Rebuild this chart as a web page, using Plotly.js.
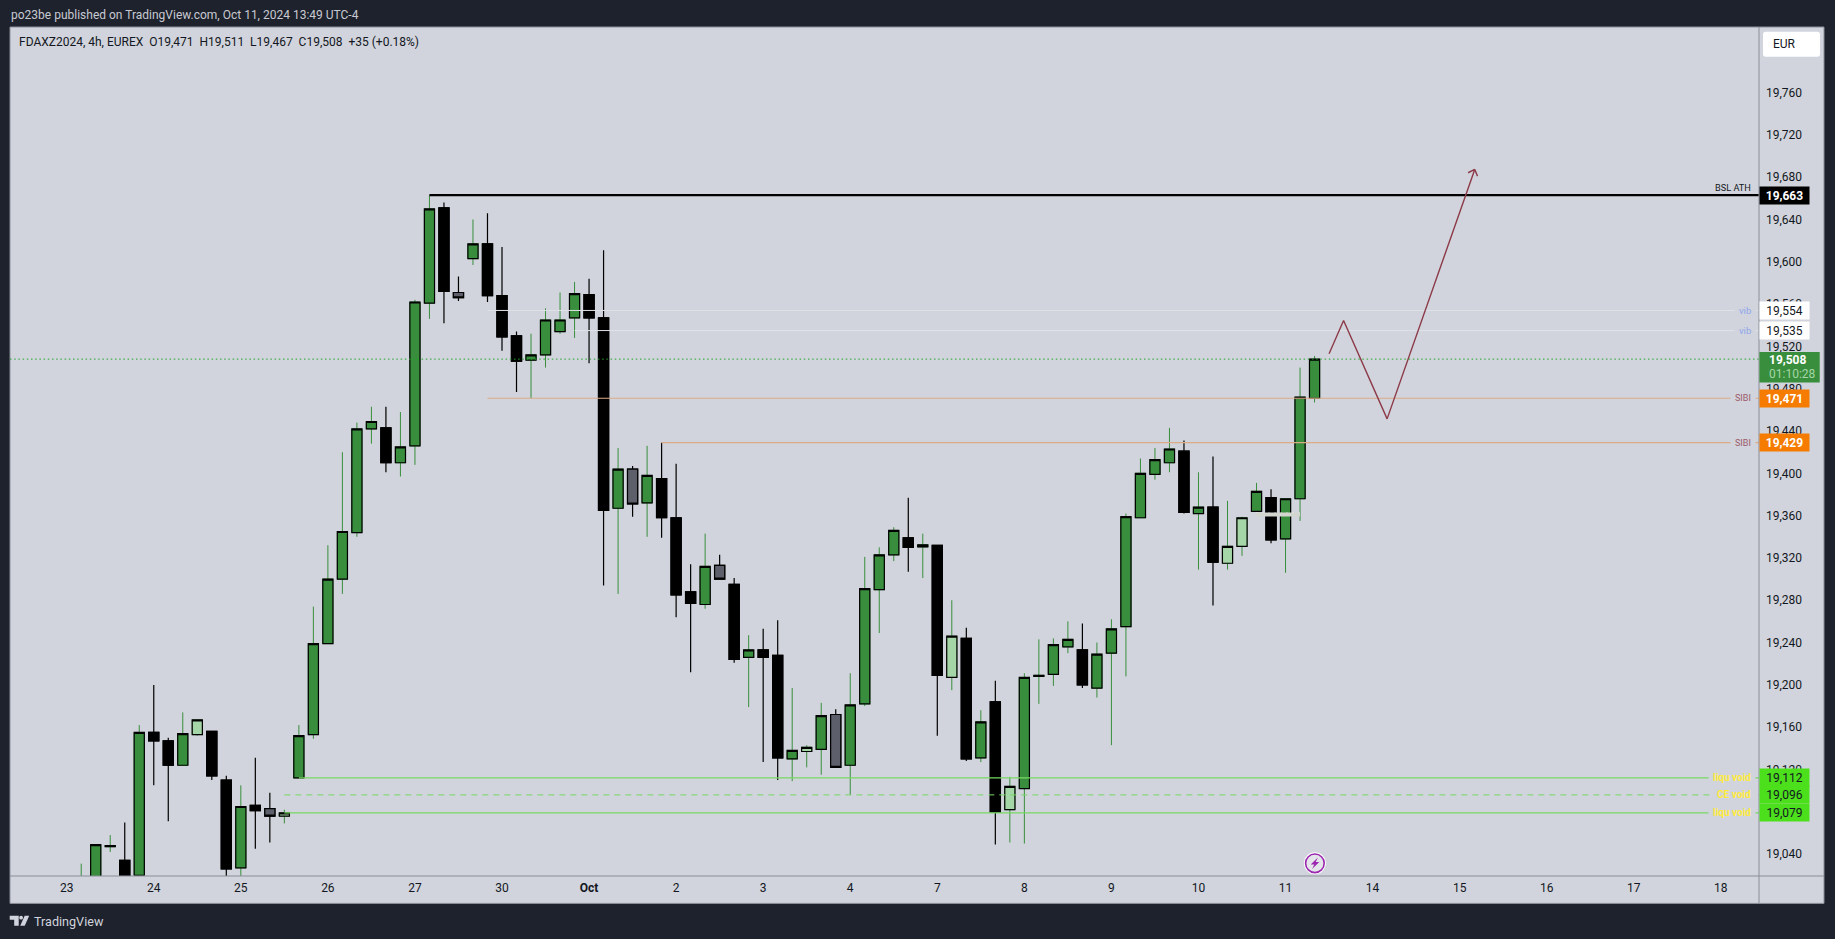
<!DOCTYPE html>
<html>
<head>
<meta charset="utf-8">
<script src="https://cdn.plot.ly/plotly-3.0.1.min.js"></script>
<style>html,body{margin:0;padding:0;background:#1e222d;overflow:hidden}</style>
</head>
<body>
<div id="chart" style="width:1835px;height:939px"></div>
<script>
// ---------- chart data ----------
var barIndex = [];
var opens  = [18995,19000,19047,19034,19020,19155,19147,19124,19153,19156,19110,19027,19086,19083,19076,19112,19153,19239,19300,19344,19442,19443,19410,19426,19561,19651,19571,19603,19617,19568,19530,19507,19512,19534,19547,19569,19547,19367,19404,19372,19395,19358,19288,19276,19313,19295,19226,19233,19228,19130,19137,19139,19172,19124,19182,19290,19323,19339,19330.5,19332,19207,19244,19131,19184,19082,19102,19208,19210,19236,19233,19197,19230,19255,19358,19399,19410,19421,19362,19368,19315,19331,19364,19377,19338,19376,19471];
var highs  = [19031,19049,19058,19070,19162,19200,19150,19174,19167,19156,19114,19105,19131,19098,19082,19162,19274,19332,19420,19448,19463,19463,19458,19564,19663,19656,19586,19640,19646,19614,19534,19532,19556,19571,19581,19584,19611,19424,19407,19426,19429,19409,19314,19343,19323,19301,19247,19253,19261,19197,19143,19183,19177,19211,19321,19330,19349,19377,19343,19332,19280,19254,19176,19204,19113,19211,19243,19244,19260,19258,19240,19262,19362,19414,19424,19443,19431,19401,19416,19374,19359,19391,19385,19376,19500,19511];
var lows   = [18990,18995,19042,19000,19018,19105,19071,19124,19152,19110,19015,19018,19045,19051,19069,19112,19149,19239,19286,19340,19428,19401,19397,19408,19546,19542,19563,19597,19562,19516,19477,19471,19500,19532,19528,19504,19294,19286,19359,19340,19339,19264,19212,19272,19300,19221,19179,19127,19110,19109,19122,19115,19122,19096,19180,19249,19317,19307,19301,19152,19195,19128,19127,19049,19051,19050,19182,19199,19230,19197,19188,19143,19208,19358,19394,19401,19362,19309,19275,19309,19322,19364,19334,19306,19355,19467];
var closes = [19015,19049,19048,19005,19155,19147,19124,19154,19167,19114,19026,19085,19081,19076,19079,19152,19239,19300,19345,19442,19449,19410,19425,19562,19650,19572,19566,19617,19568,19529,19506,19512,19545,19545,19570,19547,19365,19404,19371,19398,19358,19285,19277,19312,19300,19224,19233,19226,19131,19138,19141,19171,19122,19181,19291,19323,19346,19330,19332.5,19209,19246,19130,19165,19080,19104,19207,19209,19238,19243,19200,19229,19253,19359,19400,19413,19423,19363,19368,19316,19331,19358,19383,19337,19376,19472,19508];
opens.forEach(function (_, k) { barIndex.push(k + 1); });
var lightBars = [9,15,51,61,65,80,81];
var greyBars  = [14,27,39,45,53];

var dayTicks  = [0,6,12,18,24,30,36,42,48,54,60,66,72,78,84,90,96,102,108,114];
var dayLabels = ['23','24','25','26','27','30','<b>Oct</b>','2','3','4','7','8','9','10','11','14','15','16','17','18'];
var priceTicks = [19040,19080,19120,19160,19200,19240,19280,19320,19360,19400,19440,19480,19520,19560,19600,19640,19680,19720,19760];

var bslLevel = 19663,  bslStart = 25;
var vibLevels = [19554,19535],  vibStarts = [29,35];
var sibiLevels = [19471,19429], sibiStarts = [29,41];
var voidLevels = [19112,19079], voidStarts = [16,15];
var ceLevel = 19096, ceStart = 15;
var lastPrice = 19508;
var countdown = '01:10:28';
var projectionX = [87,88,91,97.04,96.58,null,97.04,97.23];
var projectionY = [19513,19544.5,19451.5,19687.3,19684.2,null,19687.3,19681];
var smudgeX = [82,85], smudgeY = [19361,19361], smudgeDotY = [19363,19363];

// ---------- layout helpers ----------
var W = 1835, H = 939, mL = 10.3, mR = 75.7, mT = 27, mB = 62.7;
var pw = W - mL - mR, ph = H - mT - mB;
function fx(p) { return (p - mL) / pw; }
function fy(p) { return 1 - (p - mT) / ph; }
function pt(x, y) { return fx(x) + ',' + fy(y); }
var xMin = -3.908, xMax = 116.63;
var FONT = 'Roboto, sans-serif', INK = '#131722', PANEL = '#d1d4dc', BG = '#1e222d', RULE = '#8b8e98';

function rect(x0, y0, x1, y1, fill, line, layer) {
  return {type:'rect', xref:'paper', yref:'paper', x0:fx(x0), x1:fx(x1), y0:fy(y0), y1:fy(y1),
          fillcolor:fill, line:{color:line||fill, width:line?1:0}, layer:layer||'below'};
}
function path(d, fill, line, lw) {
  return {type:'path', xref:'paper', yref:'paper', path:d, fillcolor:fill||'rgba(0,0,0,0)',
          line:{color:line||'rgba(0,0,0,0)', width:lw||0}, layer:'above'};
}
function circle(cx, cy, r, fill, line, lw) {
  return {type:'circle', xref:'paper', yref:'paper', x0:fx(cx-r), x1:fx(cx+r), y0:fy(cy+r), y1:fy(cy-r),
          fillcolor:fill, line:{color:line, width:lw}, layer:'above'};
}
function text(t, x, y, size, color, anchor) {
  return {text:t, xref:'paper', yref:'paper', x:fx(x), y:fy(y), xanchor:anchor||'left', yanchor:'middle',
          showarrow:false, font:{family:FONT, size:size, color:color}, borderpad:0};
}
// price tag on the right axis
function tag(value, fill, color, bold) {
  var s = value.toLocaleString('en-US');
  return {text:bold ? '<b>'+s+'</b>' : s, xref:'paper', yref:'y', x:1, y:value, xanchor:'left', yanchor:'middle',
          xshift:0.4, width:49, height:17, align:'center', bgcolor:fill, borderpad:0, showarrow:false,
          font:{family:FONT, size:12, color:color}};
}
// drawing label just left of the axis, hiding the line behind it
function lineLabel(t, value, color, bold, size) {
  return {text:bold ? '<b>'+t+'</b>' : t, xref:'paper', yref:'y', x:fx(1752.7), y:value, xanchor:'right', yanchor:'middle',
          showarrow:false, bgcolor:PANEL, borderpad:4, xshift:4, font:{family:FONT, size:size||10, color:color}};
}
function level(y, start, color, width, dash) {
  return {type:'scatter', mode:'lines', x:[start, xMax], y:[y, y], hoverinfo:'skip', showlegend:false,
          line:{color:color, width:width, dash:dash||'solid'}};
}

// ---------- traces ----------
var traces = [];
traces.push(level(bslLevel, bslStart, '#000000', 2.4));
vibLevels.forEach(function (v, k) { traces.push(level(v, vibStarts[k], '#e0e2e9', 1)); });
sibiLevels.forEach(function (v, k) { traces.push(level(v, sibiStarts[k], '#dcab86', 1.2)); });
voidLevels.forEach(function (v, k) { traces.push(level(v, voidStarts[k], '#76d962', 1.2)); });
traces.push(level(ceLevel, ceStart, '#76d962', 1, '6px,5px'));
traces.push({type:'scatter', mode:'lines', x:smudgeX, y:smudgeY, hoverinfo:'skip', showlegend:false, line:{color:'#d3d6cf', width:4}});
traces.push({type:'scatter', mode:'lines', x:smudgeX, y:smudgeDotY, hoverinfo:'skip', showlegend:false, line:{color:'rgba(255,255,255,0.45)', width:1, dash:'1px,5px'}});

// wicks
traces.push({type:'candlestick', x:barIndex, open:opens, high:highs, low:lows, close:closes, hoverinfo:'skip', showlegend:false,
  increasing:{line:{color:'#388e3c', width:1}, fillcolor:'rgba(0,0,0,0)'},
  decreasing:{line:{color:'#000000', width:1.2}, fillcolor:'rgba(0,0,0,0)'}});

// bodies: one candlestick trace per body colour, high/low collapsed onto the body
function bodies(test, upFill, downFill) {
  var x=[],o=[],h=[],l=[],c=[];
  barIndex.forEach(function (b, k) {
    if (test(b)) { x.push(b); o.push(opens[k]); c.push(closes[k]);
      h.push(Math.max(opens[k],closes[k])); l.push(Math.min(opens[k],closes[k])); }
  });
  return {type:'candlestick', x:x, open:o, high:h, low:l, close:c, hoverinfo:'skip', showlegend:false,
    increasing:{line:{color:'#000000', width:1.2}, fillcolor:upFill},
    decreasing:{line:{color:'#000000', width:1.2}, fillcolor:downFill}};
}
traces.push(bodies(function (b) { return lightBars.indexOf(b) < 0 && greyBars.indexOf(b) < 0; }, '#388e3c', '#000000'));
traces.push(bodies(function (b) { return lightBars.indexOf(b) >= 0; }, '#a5d6a7', '#a5d6a7'));
traces.push(bodies(function (b) { return greyBars.indexOf(b) >= 0; }, '#5d606b', '#5d606b'));

traces.push({type:'scatter', mode:'lines', x:projectionX, y:projectionY, hoverinfo:'skip', showlegend:false, connectgaps:false,
  line:{color:'#8c3a48', width:1.4}});
traces.push({type:'scatter', mode:'lines', x:[xMin, xMax], y:[lastPrice, lastPrice], hoverinfo:'skip', showlegend:false,
  line:{color:'#22a52b', width:1, dash:'1.5px,2.7px'}});

// ---------- chrome ----------
var shapes = [
  rect(10.3, 27, 1824.3, 903.7, PANEL, RULE),
  {type:'line', xref:'paper', yref:'paper', x0:1, x1:1, y0:fy(27), y1:fy(903.7), line:{color:RULE, width:1}, layer:'above'},
  {type:'line', xref:'paper', yref:'paper', x0:0, x1:fx(1824.3), y0:0, y1:0, line:{color:RULE, width:1}, layer:'above'},
  // EUR button
  path('M'+pt(1766,31.7)+' L'+pt(1817.5,31.7)+' Q'+pt(1820.3,31.7)+' '+pt(1820.3,34.5)+' L'+pt(1820.3,54)+' Q'+pt(1820.3,56.7)+' '+pt(1817.5,56.7)+
       ' L'+pt(1766,56.7)+' Q'+pt(1763.3,56.7)+' '+pt(1763.3,54)+' L'+pt(1763.3,34.5)+' Q'+pt(1763.3,31.7)+' '+pt(1766,31.7)+' Z', '#ffffff'),
  // current price box
  rect(1759.7, 352, 1820, 382.7, '#388e3c', null, 'above'),
  // TradingView logo
  path('M'+pt(10,916)+' L'+pt(19,916)+' L'+pt(19,926)+' L'+pt(14.5,926)+' L'+pt(14.5,920)+' L'+pt(10,920)+' Z', '#d1d4dc'),
  circle(21.4, 918, 1.9, '#d1d4dc', '#d1d4dc', 0),
  path('M'+pt(25,916)+' L'+pt(29.5,916)+' L'+pt(25,926)+' L'+pt(20.5,926)+' Z', '#d1d4dc'),
  // purple flash badge
  circle(1315.2, 863.6, 11, '#ffffff', '#ffffff', 0),
  circle(1315.2, 863.6, 9.3, '#e4e5ea', '#9c27b0', 1.6),
  path('M'+pt(1318.2,857.8)+' L'+pt(1311,864.8)+' L'+pt(1314.6,864.8)+' L'+pt(1312.4,869.4)+' L'+pt(1319.6,862.4)+' L'+pt(1316,862.4)+' Z', '#9c27b0')
];

var annotations = [
  text('po23be published on TradingView.com, Oct 11, 2024 13:49 UTC-4', 10, 15.2, 12, '#c8cad2'),
  text('FDAXZ2024, 4h, EUREX&nbsp;&nbsp;O19,471&nbsp;&nbsp;H19,511&nbsp;&nbsp;L19,467&nbsp;&nbsp;C19,508&nbsp;&nbsp;+35 (+0.18%)', 18, 41.7, 12, INK),
  text('TradingView', 33, 921.5, 12.6, '#d1d4dc'),
  text('EUR', 1772, 44.5, 12, INK),
  text('BSL ATH', 1752.7, 187.3, 9.2, INK, 'right'),
  lineLabel('vib', 19554, '#8ea5ec', false, 9.5),
  lineLabel('vib', 19535, '#8ea5ec', false, 9.5),
  lineLabel('SIBI', 19471, '#9c5a68', false, 9),
  lineLabel('SIBI', 19429, '#9c5a68', false, 9),
  lineLabel('liqu void', 19112, '#ffeb3b', true),
  lineLabel('CE void', 19096, '#ffeb3b', true),
  lineLabel('liqu void', 19079, '#ffeb3b', true),
  tag(19663, '#000000', '#ffffff', true),
  tag(19554, '#ffffff', INK),
  tag(19535, '#ffffff', INK),
  tag(19471, '#f57c00', '#ffffff', true),
  tag(19429, '#f57c00', '#ffffff', true),
  tag(19112, '#4cdf1c', INK),
  tag(19096, '#4cdf1c', INK),
  tag(19079, '#4cdf1c', INK),
  text('<b>' + lastPrice.toLocaleString('en-US') + '</b>', 1768.7, 360, 12, '#ffffff'),
  text(countdown, 1768.2, 374.5, 12, '#a5d6a7')
];

var layout = {
  width:W, height:H, margin:{l:mL, r:mR, t:mT, b:mB, pad:0},
  paper_bgcolor:BG, plot_bgcolor:PANEL, showlegend:false, hovermode:false,
  boxmode:'overlay', boxgap:0.3, boxgroupgap:0,
  font:{family:FONT, size:12, color:INK},
  xaxis:{type:'linear', range:[xMin, xMax], tickmode:'array', tickvals:dayTicks, ticktext:dayLabels, ticklen:0, ticklabelstandoff:3,
         showgrid:false, zeroline:false, showline:false, rangeslider:{visible:false}, fixedrange:true,
         tickfont:{family:FONT, size:12, color:INK}},
  yaxis:{type:'linear', side:'right', range:[19019.3, 19822], tickmode:'array', tickvals:priceTicks, tickformat:',d', ticklen:0, ticklabelstandoff:6, ticklabelshift:1.4,
         showgrid:false, zeroline:false, showline:false, fixedrange:true,
         tickfont:{family:FONT, size:12, color:INK}},
  shapes:shapes, annotations:annotations
};
Plotly.newPlot('chart', traces, layout, {displayModeBar:false, responsive:false, staticPlot:true});
</script>
</body>
</html>
